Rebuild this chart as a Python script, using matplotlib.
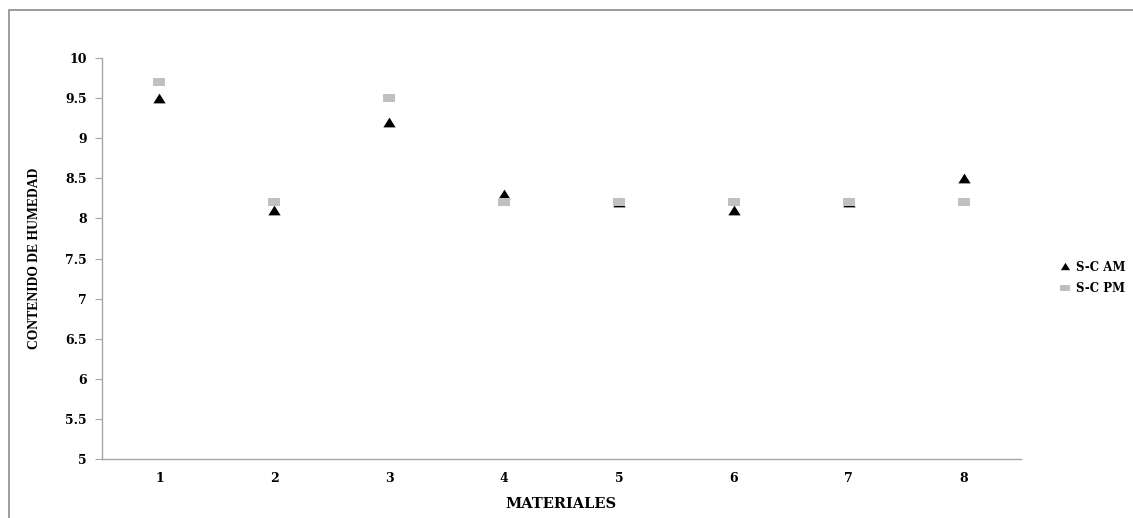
import matplotlib
matplotlib.use("Agg")
import matplotlib.pyplot as plt
from matplotlib.path import Path
from matplotlib.patches import Rectangle

materiales = [1, 2, 3, 4, 5, 6, 7, 8]
sc_am = [9.5, 8.1, 9.2, 8.3, 8.2, 8.1, 8.2, 8.5]
sc_pm = [9.7, 8.2, 9.5, 8.2, 8.2, 8.2, 8.2, 8.2]
y_ticks = [5, 5.5, 6, 6.5, 7, 7.5, 8, 8.5, 9, 9.5, 10]
y_ticklabels = ["5", "5.5", "6", "6.5", "7", "7.5", "8", "8.5", "9", "9.5", "10"]

W, H = 1133, 518
fig = plt.figure(figsize=(W / 100, H / 100), dpi=100)
ax = fig.add_axes([102 / W, 1 - 459 / H, (1021 - 102) / W, (459 - 58) / H])

rect_marker = Path([(-1, -0.7), (1, -0.7), (1, 0.7), (-1, 0.7), (-1, -0.7)],
                   [Path.MOVETO, Path.LINETO, Path.LINETO, Path.LINETO, Path.CLOSEPOLY])
tri_marker = Path([(0, 0.8), (1, -0.8), (-1, -0.8), (0, 0.8)],
                  [Path.MOVETO, Path.LINETO, Path.LINETO, Path.CLOSEPOLY])

ax.plot(materiales, sc_am, linestyle="none", marker=tri_marker, markersize=8.8,
        color="black", markeredgewidth=0, label="S-C AM", zorder=3)
ax.plot(materiales, sc_pm, linestyle="none", marker=rect_marker, markersize=8.8,
        color="#c0c0c0", markeredgewidth=0, label="S-C PM", zorder=4)

ax.set_xlim(0.5, 8.5)
ax.set_ylim(5, 10)
ax.set_yticks(y_ticks)
ax.set_yticklabels(y_ticklabels)
ax.set_xticks(materiales)

for lab in ax.get_xticklabels() + ax.get_yticklabels():
    lab.set_fontfamily("DejaVu Serif")
    lab.set_fontweight("bold")
    lab.set_fontsize(9)

for s in ["top", "right"]:
    ax.spines[s].set_visible(False)
for s in ["left", "bottom"]:
    ax.spines[s].set_color("#a6a6a6")
    ax.spines[s].set_linewidth(1.0)
ax.tick_params(axis="y", length=5, color="#a6a6a6", pad=6)
ax.tick_params(axis="x", length=0, pad=9.5)

fig.text(561 / W, 1 - 504 / H, "MATERIALES", ha="center", va="center",
         family="DejaVu Serif", weight="bold", size=10.5)
fig.text(35 / W, 1 - 258 / H, "CONTENIDO DE HUMEDAD", ha="center", va="center",
         rotation=90, family="Liberation Serif", weight="bold", size=9.8)

leg = ax.legend(loc="center left", bbox_to_anchor=(1060 / W, 1 - 278 / H),
                bbox_transform=fig.transFigure, frameon=False,
                handlelength=0.9, handletextpad=0.45, labelspacing=0.75,
                markerscale=0.75, borderaxespad=0, borderpad=0,
                prop=dict(family="DejaVu Serif", weight="bold", size=8.5))

fig.patches.append(Rectangle((9 / W, -0.1), 1.2, 1 - 10 / H + 0.1,
                             transform=fig.transFigure, fill=False,
                             edgecolor="#8c8c8c", linewidth=1.2))

fig.savefig("out.png", dpi=100)
